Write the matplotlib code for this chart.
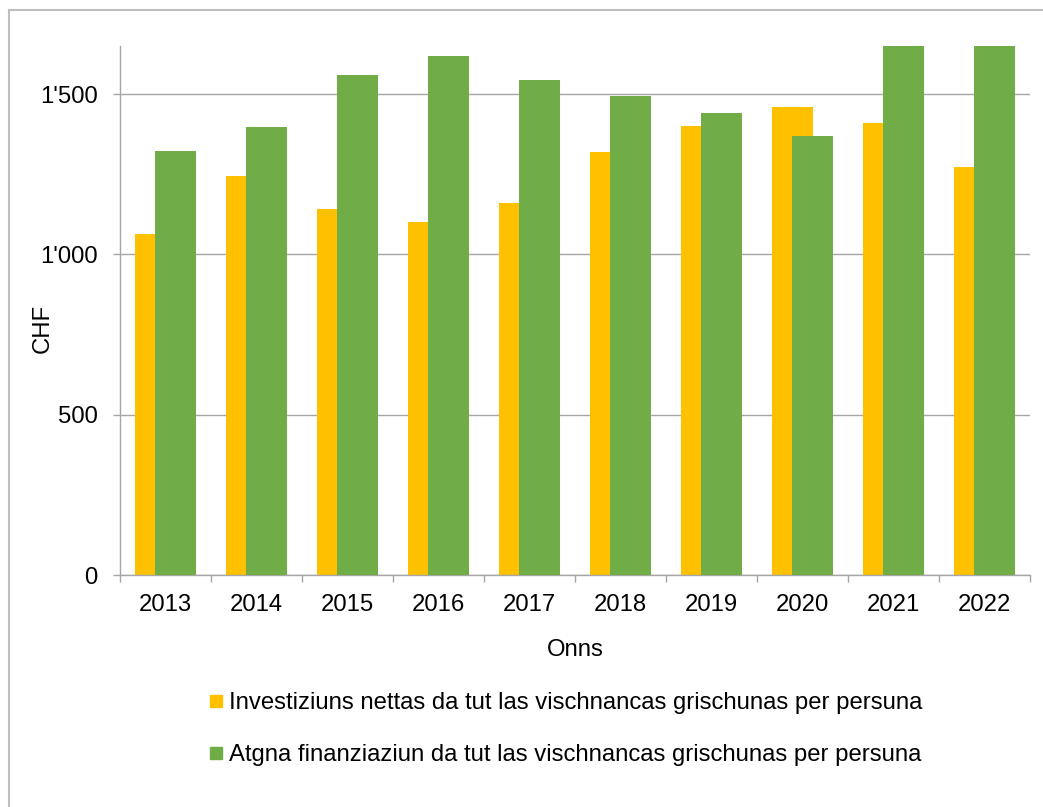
import matplotlib
matplotlib.use("Agg")
import matplotlib.pyplot as plt
import numpy as np
from matplotlib.lines import Line2D
from matplotlib.ticker import FuncFormatter, MultipleLocator

# data
years = ["2013", "2014", "2015", "2016", "2017", "2018", "2019", "2020", "2021", "2022"]
investiziuns = [1065, 1243, 1143, 1100, 1160, 1318, 1402, 1460, 1411, 1272]
finanziaziun = [1321, 1396, 1558, 1620, 1545, 1495, 1442, 1368, 1700, 1720]
series_labels = [
    "Investiziuns nettas da tut las vischnancas grischunas per persuna",
    "Atgna finanziaziun da tut las vischnancas grischunas per persuna",
]
series_colors = ["#FFC000", "#70AD47"]

plt.rcParams["font.family"] = ["Liberation Sans", "DejaVu Sans"]
FS = 17.2
GRID = "#A6A6A6"

fig = plt.figure(figsize=(10.43, 8.07), dpi=100)
ax = fig.add_axes([120 / 1043, 1 - 575 / 807, 910 / 1043, (575 - 46) / 807])

x = np.arange(len(years))
width = 0.455
off = 0.113
ax.bar(x - off, investiziuns, width, color=series_colors[0], zorder=2)
ax.bar(x + off, finanziaziun, width, color=series_colors[1], zorder=3)

ax.set_xlim(-0.5, len(years) - 0.5)
ax.set_ylim(0, 1650)

ax.yaxis.set_major_locator(MultipleLocator(500))
ax.yaxis.set_major_formatter(FuncFormatter(lambda v, p: "{:,.0f}".format(v).replace(",", "'")))
ax.grid(axis="y", color=GRID, lw=1, zorder=0)

ax.set_xticks(x)
ax.set_xticklabels(years)
ax.set_xticks(np.arange(-0.5, len(years), 1), minor=True)
ax.tick_params(axis="x", which="major", length=0, pad=14, labelsize=FS)
ax.tick_params(axis="x", which="minor", length=5, color=GRID, width=1, direction="out")
ax.tick_params(axis="y", length=5, color=GRID, width=1, pad=11, labelsize=FS)

for s in ["top", "right"]:
    ax.spines[s].set_visible(False)
for s in ["left", "bottom"]:
    ax.spines[s].set_color(GRID)
    ax.spines[s].set_linewidth(1)

ax.set_ylabel("CHF", fontsize=FS)
ax.yaxis.set_label_coords(-66 / 910, 0.467)
ax.set_xlabel("Onns", fontsize=FS)
ax.xaxis.set_label_coords(0.5, -(650 - 575) / 529)
ax.xaxis.label.set_va("center")

handles = [Line2D([], [], ls="none", marker="s", markersize=8, color=c) for c in series_colors]
fig.legend(handles, series_labels, loc="upper left", bbox_to_anchor=(209 / 1043, 1 - 692 / 807),
           frameon=False, fontsize=FS, handlelength=0.6, handletextpad=0.25,
           labelspacing=1.25, borderpad=0, borderaxespad=0)

# light frame on top and left edge
fig.add_artist(Line2D([8.5 / 1043, 8.5 / 1043], [0, 1 - 9.5 / 807], color="#BFBFBF", lw=1.5,
                      transform=fig.transFigure))
fig.add_artist(Line2D([8.5 / 1043, 1], [1 - 9.5 / 807, 1 - 9.5 / 807], color="#BFBFBF", lw=1.5,
                      transform=fig.transFigure))

fig.savefig("out.png", dpi=100)
